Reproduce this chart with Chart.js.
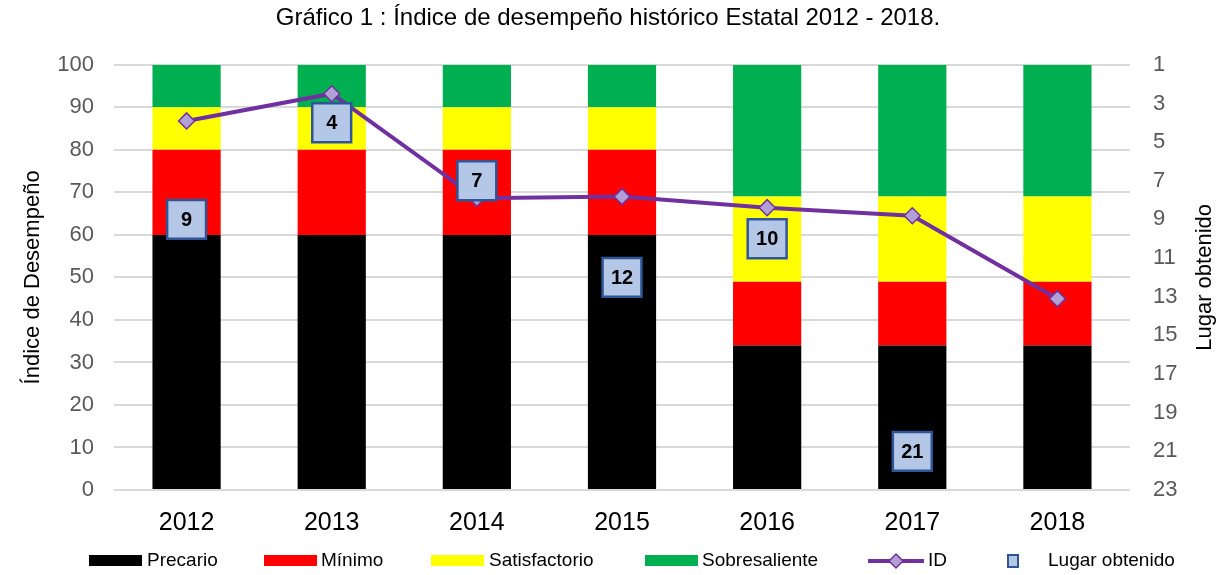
<!DOCTYPE html>
<html>
<head>
<meta charset="utf-8">
<script src="https://cdn.jsdelivr.net/npm/chart.js@4/dist/chart.umd.min.js"></script>
<style>
  html, body { margin: 0; background: #fff; }
  #wrap { width: 1216px; height: 575px; }
</style>
</head>
<body>
<div id="wrap"><canvas id="grafico"></canvas></div>
<script>
// Datos
const anios = ["2012", "2013", "2014", "2015", "2016", "2017", "2018"];
const precario = [60, 60, 60, 60, 34, 34, 34];
const minimo = [20, 20, 20, 20, 15, 15, 15];
const satisfactorio = [10, 10, 10, 10, 20, 20, 20];
const sobresaliente = [10, 10, 10, 10, 31, 31, 31];
const indiceID = [86.8, 93.2, 68.6, 69, 66.4, 64.5, 45];
const lugar = [9, 4, 7, 12, 10, 21, null];

const SANS = "'Liberation Sans', Arial, sans-serif";
const MORADO = "#7030a0";

const barra = (label, data, color) => ({
  type: "bar", label, data, backgroundColor: color,
  order: 3, yAxisID: "y", barPercentage: 0.47, categoryPercentage: 1
});

// etiquetas dentro de los cuadros de lugar
const etiquetasLugar = {
  id: "etiquetasLugar",
  afterDatasetsDraw(chart) {
    const ctx = chart.ctx;
    const meta = chart.getDatasetMeta(5);
    ctx.save();
    ctx.font = "bold 20px " + SANS;
    ctx.fillStyle = "#000";
    ctx.textAlign = "center";
    ctx.textBaseline = "middle";
    meta.data.forEach((p, i) => {
      if (lugar[i] == null) return;
      ctx.fillText(lugar[i], p.x, p.y + 1);
    });
    ctx.restore();
  }
};

// titulo eje derecho (de abajo hacia arriba) y leyenda
const extras = {
  id: "extras",
  afterDraw(chart) {
    const ctx = chart.ctx;
    const a = chart.chartArea;
    ctx.save();
    ctx.translate(1205, (a.top + a.bottom) / 2);
    ctx.rotate(-Math.PI / 2);
    ctx.font = "22px " + SANS;
    ctx.fillStyle = "#000";
    ctx.textAlign = "center";
    ctx.textBaseline = "middle";
    ctx.fillText("Lugar obtenido", 0, 0);
    ctx.restore();

    const ds = chart.data.datasets;
    const xs = [89, 264, 431, 645, 868, 1008];
    const txs = [147, 321, 489, 702, 928, 1048];
    const y = 561;
    ctx.save();
    ctx.font = "19px " + SANS;
    ctx.textBaseline = "middle";
    ds.forEach((d, i) => {
      const x = xs[i];
      if (i < 4) {
        ctx.fillStyle = d.backgroundColor;
        ctx.fillRect(x, y - 6, 53, 11);
      } else if (i === 4) {
        ctx.strokeStyle = MORADO;
        ctx.lineWidth = 4;
        ctx.beginPath(); ctx.moveTo(x, y); ctx.lineTo(x + 56, y); ctx.stroke();
        ctx.fillStyle = d.pointBackgroundColor;
        ctx.lineWidth = 1.5;
        ctx.beginPath();
        ctx.moveTo(x + 28, y - 7); ctx.lineTo(x + 35, y);
        ctx.lineTo(x + 28, y + 7); ctx.lineTo(x + 21, y); ctx.closePath();
        ctx.fill(); ctx.stroke();
      } else {
        ctx.fillStyle = d.backgroundColor;
        ctx.strokeStyle = d.borderColor;
        ctx.lineWidth = 2;
        ctx.fillRect(x, y - 6, 10, 12);
        ctx.strokeRect(x, y - 6, 10, 12);
      }
      ctx.fillStyle = "#000";
      ctx.fillText(d.label, txs[i], y);
    });
    ctx.restore();
  }
};

new Chart(document.getElementById("grafico"), {
  data: {
    labels: anios,
    datasets: [
      barra("Precario", precario, "#000000"),
      barra("Mínimo", minimo, "#ff0000"),
      barra("Satisfactorio", satisfactorio, "#ffff00"),
      barra("Sobresaliente", sobresaliente, "#00b050"),
      {
        type: "line", label: "ID", data: indiceID, yAxisID: "y", stack: "linea", order: 2,
        borderColor: MORADO, backgroundColor: MORADO, borderWidth: 4,
        pointStyle: "rectRot", pointRadius: 8, pointBackgroundColor: "#b1a0d6",
        pointBorderColor: MORADO, pointBorderWidth: 1.5, tension: 0
      },
      {
        type: "line", label: "Lugar obtenido", data: lugar, yAxisID: "y2", order: 1,
        showLine: false, pointStyle: "rect", pointRadius: 27.5,
        backgroundColor: "#b4c7e7", borderColor: "#2f5597",
        pointBackgroundColor: "#b4c7e7", pointBorderColor: "#2f5597", pointBorderWidth: 2.5
      }
    ]
  },
  options: {
    responsive: true,
    maintainAspectRatio: false,
    animation: false,
    layout: { padding: { top: 0, bottom: 27, left: 0, right: 0 } },
    plugins: {
      legend: { display: false },
      tooltip: { enabled: false },
      title: {
        display: true,
        text: "Gráfico 1 : Índice de desempeño histórico Estatal 2012 - 2018.",
        color: "#000",
        font: { family: SANS, size: 24, weight: "normal" },
        padding: { top: 4, bottom: 32 }
      }
    },
    scales: {
      x: {
        stacked: true,
        grid: { display: false },
        border: { display: false },
        ticks: { color: "#000", font: { family: SANS, size: 25 }, padding: 10 }
      },
      y: {
        stacked: true,
        min: 0, max: 100,
        afterFit: s => { s.width = 114; },
        ticks: { stepSize: 10, color: "#595959", font: { family: SANS, size: 22 }, padding: 20 },
        grid: { color: "#d9d9d9", lineWidth: 2, drawTicks: false },
        border: { display: false },
        title: {
          display: true, text: "Índice de Desempeño", color: "#000",
          font: { family: SANS, size: 22 }, padding: { top: 20, bottom: 0 }
        }
      },
      y2: {
        position: "right",
        reverse: true,
        min: 1, max: 23,
        afterFit: s => { s.width = 86; },
        ticks: { stepSize: 2, color: "#595959", font: { family: SANS, size: 22 }, padding: 23 },
        grid: { drawOnChartArea: false, drawTicks: false },
        border: { display: false }
      }
    }
  },
  plugins: [etiquetasLugar, extras]
});
</script>
</body>
</html>
